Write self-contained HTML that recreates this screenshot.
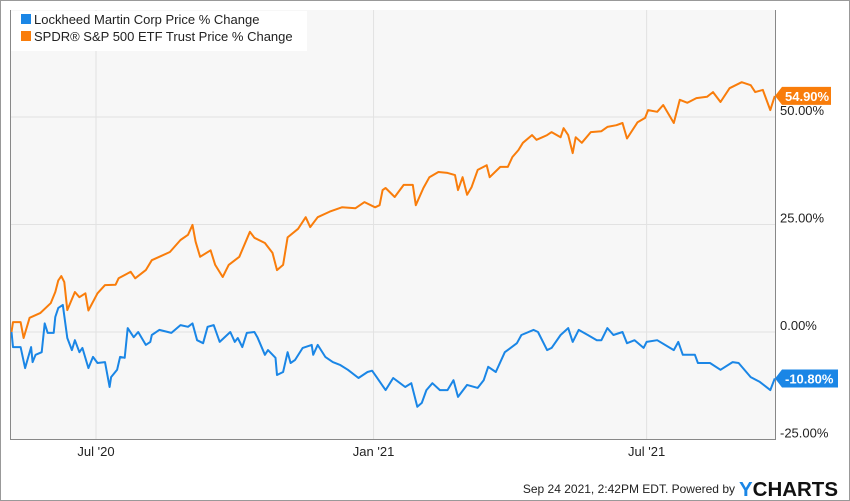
<!DOCTYPE html>
<html><head><meta charset="utf-8"><style>
body{margin:0;background:#fff;}
svg{display:block;font-family:"Liberation Sans",Arial,sans-serif;}
</style></head><body>
<svg width="850" height="501" viewBox="0 0 850 501">
<rect x="0.5" y="0.5" width="849" height="500" fill="#fff" stroke="#999"/>
<rect x="10" y="10" width="765" height="429" fill="#f7f7f7"/>
<g id="grid"></g>
<g id="series"></g>
<line x1="10.5" y1="10" x2="10.5" y2="439" stroke="#888"/>
<line x1="775.5" y1="10" x2="775.5" y2="439" stroke="#888"/>
<line x1="10" y1="439.5" x2="776" y2="439.5" stroke="#888"/>
<g id="ylabels"></g>
<g id="xlabels"></g>
<g id="badges"></g>
<g>
<rect x="11" y="11" width="296" height="40" fill="#fff"/>
<g>
<rect x="21" y="14" width="10" height="10" fill="#1a86e6"/>
<text x="34" y="24" font-size="13" fill="#222">Lockheed Martin Corp Price % Change</text>
</g>
<g>
<rect x="21" y="31" width="10" height="10" fill="#f97d0b"/>
<text x="34" y="41" font-size="13" fill="#222">SPDR® S&amp;P 500 ETF Trust Price % Change</text>
</g>
</g>
<text x="735" y="493" font-size="12" fill="#222" text-anchor="end">Sep 24 2021, 2:42PM EDT.  Powered by</text>
<text x="739" y="496" font-size="20" font-weight="bold" fill="#111" textLength="99" lengthAdjust="spacingAndGlyphs"><tspan fill="#1a86e6">Y</tspan>CHARTS</text>
</svg>
<script>
// days since 2020-05-05
const spyDays=[1,2,7,9,13,20,27,30,32,34,36,38,43,46,50,52,58,63,70,72,80,83,90,94,99,106,113,118,121,123,126,133,136,141,145,152,159,162,169,174,177,181,184,191,196,199,204,212,220,229,235,242,245,247,249,255,261,267,269,274,278,284,290,295,297,300,303,306,310,316,318,325,330,333,337,340,346,349,353,356,359,365,367,370,373,375,379,385,392,396,402,406,409,416,421,423,429,433,440,444,449,455,462,466,471,477,485,491,494,499,504,507];
const spyValues=[0,2.3,2.3,-1.4,3.3,4.4,6.7,9.3,12,13,11.6,5.1,9.3,8.1,9,5,9,10.9,11,12.5,14,12.5,14.4,16.7,17.5,18.6,21.4,22.6,24.9,21,17.5,19,15.6,12.8,15.6,17.5,23.3,21.9,20.7,18.4,14.4,15.6,22,24,26.7,24.4,26.7,28,29,28.8,30.2,29,29.5,33,33.5,31.4,34.2,34.2,29.5,33.5,36,37.2,37,36.5,33,36,31.9,33.7,37.7,38.8,36,38.4,38.4,40.7,42.3,44,45.8,44.7,45.3,45.8,46.5,45.3,47.4,45.8,41.6,45.3,44,46.5,46.7,47.7,48.1,48.6,45,48.8,49.8,51.6,51.2,52.8,48.6,54,53.3,54.4,54.7,55.8,53.5,56.7,58.1,57.4,55.8,56.3,51.6,54.9];
const lmtDays=[1,2,7,10,14,15,17,21,23,25,29,30,32,35,38,41,43,46,48,52,55,58,63,66,67,71,73,76,78,82,85,90,93,94,99,107,113,118,121,124,128,131,135,139,146,149,151,154,157,162,164,169,171,176,177,181,184,186,189,194,200,201,204,209,214,219,224,231,237,240,243,249,254,262,266,270,273,276,280,285,290,294,297,303,310,314,317,322,328,336,339,347,350,356,359,365,370,373,377,383,389,392,396,400,406,409,414,420,422,429,440,443,446,454,456,464,471,479,483,491,497,504,507];
const lmtValues=[0,-3.5,-3.5,-8.4,-3.5,-7,-5.3,-4.7,2,-0.2,-0.2,3.5,5.6,6.3,-1.4,-4.2,-1.9,-4.7,-3.7,-8.4,-5.8,-7.2,-7,-12.8,-10.5,-8.8,-5.8,-6,0.9,-1.2,0,-3,-2.3,-0.7,0.5,-0.2,1.6,1.2,2,-1.9,-2.6,1.2,1.6,-2.3,0,-2.3,-1.4,-3.5,-0.2,0,-1.2,-5.3,-4.2,-6,-10,-9.3,-4.7,-7.2,-6.5,-3.7,-3,-5.3,-3,-5.8,-7,-7.7,-8.8,-10.7,-9.3,-9,-10.5,-13.5,-10.7,-12.8,-11.9,-17.4,-16.5,-13.5,-11.9,-13.5,-13.5,-11.2,-15.1,-12.3,-13,-11.2,-8.1,-9.3,-4.7,-2.6,-0.7,0.5,0,-4.2,-3.7,-0.7,0.9,-2.3,0.5,-0.7,-1.9,-1.9,0.9,-0.7,0,-2.6,-1.9,-3.7,-2.3,-1.9,-4.2,-2.3,-5.3,-5.3,-7.2,-7.2,-8.8,-7,-7.2,-10.5,-11.6,-13.5,-10.8];
const yTicks=[50,25,0,-25];
const yTickLabels=["50.00%","25.00%","0.00%","-25.00%"];
const xTickDays=[57,241,422];
const xTickLabels=["Jul '20","Jan '21","Jul '21"];
const lastLabels=["54.90%","-10.80%"];

const NS="http://www.w3.org/2000/svg";
const X0=10,X1=775,D0=0,D1=507.1;
function xs(d){return X0+(d-D0)/(D1-D0)*(X1-X0);}
function ys(v){return 332-v*4.3;}
function mk(tag,attrs,parent){const e=document.createElementNS(NS,tag);for(const k in attrs)e.setAttribute(k,attrs[k]);parent.appendChild(e);return e;}
const grid=document.getElementById('grid'),ser=document.getElementById('series'),yl=document.getElementById('ylabels'),xl=document.getElementById('xlabels'),bd=document.getElementById('badges');
yTicks.forEach((t,i)=>{
  const y=ys(t);
  if(y<439){const l=mk('line',{x1:10,x2:775,y1:y,y2:y,stroke:'#e2e2e2','stroke-width':1},grid);
  
  }
  const tx=mk('text',{x:780,y:y-2,'font-size':13,fill:'#222'},yl);
  tx.textContent=yTickLabels[i];
  
  
});
xTickDays.forEach((d,i)=>{
  const x=xs(d);
  const l=mk('line',{x1:x,x2:x,y1:10,y2:439,stroke:'#e2e2e2','stroke-width':1},grid);
  
  
  const tx=mk('text',{x:x,y:456,'font-size':13,fill:'#222','text-anchor':'middle'},xl);
  tx.textContent=xTickLabels[i];
  
  
});
function line(days,vals,color,name){
  const pts=days.map((d,i)=>xs(d).toFixed(1)+','+ys(vals[i]).toFixed(1)).join(' ');
  const p=mk('polyline',{points:pts,fill:'none',stroke:color,'stroke-width':2,'stroke-linejoin':'round'},ser);
  
  
}
line(spyDays,spyValues,'#f97d0b','spy-line');
line(lmtDays,lmtValues,'#1a86e6','lmt-line');
function badge(v,label,color,w,name){
  const y=ys(v);
  const g=mk('g',{},bd);
  
  
  mk('path',{d:`M775 ${y} L782 ${y-9} L${782+w} ${y-9} L${782+w} ${y+9} L782 ${y+9} Z`,fill:color},g);
  const t=mk('text',{x:785,y:y+5,'font-size':13,'font-weight':'bold',fill:'#fff'},g);
  t.textContent=label;
}
badge(spyValues[spyValues.length-1],lastLabels[0],'#f97d0b',49,'spy-last-value-badge');
badge(lmtValues[lmtValues.length-1],lastLabels[1],'#1a86e6',56,'lmt-last-value-badge');
</script>
</body></html>
